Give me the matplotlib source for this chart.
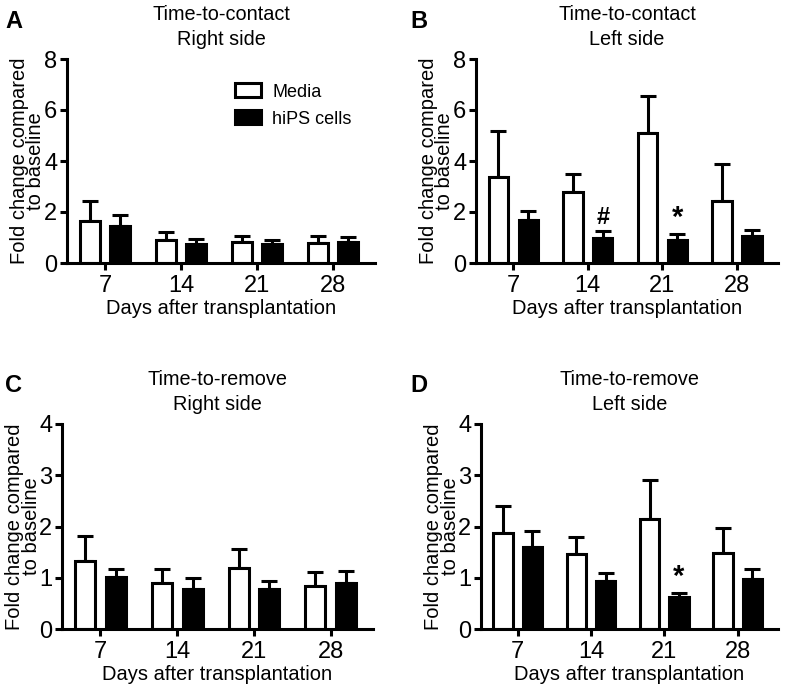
import matplotlib

matplotlib.use("Agg")
import matplotlib.pyplot as plt
import numpy as np
from matplotlib.patches import Patch

plt.rcParams["font.family"] = ["Liberation Sans", "DejaVu Sans"]

DAYS = ["7", "14", "21", "28"]
SERIES = ["Media", "hiPS cells"]

# mean and upper error bar end (mean + SEM)
A_MEDIA = [1.66, 0.92, 0.82, 0.78]
A_MEDIA_TOP = [2.42, 1.20, 1.07, 1.07]
A_HIPS = [1.46, 0.76, 0.73, 0.82]
A_HIPS_TOP = [1.88, 0.94, 0.89, 1.02]

B_MEDIA = [3.36, 2.77, 5.10, 2.42]
B_MEDIA_TOP = [5.16, 3.50, 6.54, 3.90]
B_HIPS = [1.70, 0.98, 0.89, 1.07]
B_HIPS_TOP = [2.03, 1.24, 1.14, 1.31]

C_MEDIA = [1.33, 0.89, 1.20, 0.83]
C_MEDIA_TOP = [1.82, 1.17, 1.56, 1.11]
C_HIPS = [1.01, 0.79, 0.79, 0.89]
C_HIPS_TOP = [1.17, 0.99, 0.94, 1.13]

D_MEDIA = [1.88, 1.46, 2.15, 1.48]
D_MEDIA_TOP = [2.40, 1.79, 2.90, 1.97]
D_HIPS = [1.60, 0.94, 0.63, 0.97]
D_HIPS_TOP = [1.92, 1.09, 0.70, 1.17]

W, H = 797, 689
LW = 2.2


def px_axes(fig, left, right, top, bottom):
    return fig.add_axes([left / W, (H - bottom) / H, (right - left) / W, (bottom - top) / H])


def draw_panel(ax, title, ymax, media, media_top, hips, hips_top, marks=None):
    x = np.arange(len(DAYS))
    off, width = 0.2, 0.26
    for vals, tops, dx, face in [(media, media_top, -off, "white"), (hips, hips_top, off, "black")]:
        vals = np.array(vals)
        err = np.array(tops) - vals
        ax.errorbar(x + dx, vals, yerr=[np.zeros_like(err), err], fmt="none",
                    ecolor="black", elinewidth=LW, capsize=6, capthick=LW, zorder=1)
        ax.bar(x + dx, vals, width, color=face, edgecolor="black", linewidth=LW, zorder=2)
    if marks:
        for i, sym in marks:
            size = 21 if sym == "*" else 17
            ax.text(x[i] + off, hips_top[i] + ymax * 0.01, sym, ha="center", va="bottom",
                    fontsize=size, fontweight="bold")
    ticks = np.arange(0, ymax + 0.1, ymax / 4)
    ax.set_xlim(-0.5, 3.55)
    ax.set_ylim(0, ymax)
    ax.set_yticks(ticks, [f"{v:g}" for v in ticks])
    ax.set_xticks(x, DAYS)
    for side in ["top", "right"]:
        ax.spines[side].set_visible(False)
    for side in ["left", "bottom"]:
        ax.spines[side].set_linewidth(LW)
    ax.tick_params(axis="both", width=LW, length=5, labelsize=17, pad=2)
    ax.tick_params(axis="x", pad=4)
    ax.set_xlabel("Days after transplantation", fontsize=14.5, labelpad=1)
    ax.set_ylabel("Fold change compared\nto baseline", fontsize=14.5, linespacing=0.82, labelpad=-1)
    ax.set_title(title, fontsize=14.3, linespacing=1.4, pad=10)


fig = plt.figure(figsize=(W / 100, H / 100), dpi=100)

ax_a = px_axes(fig, 67, 375, 59, 263)
draw_panel(ax_a, "Time-to-contact\nRight side", 8, A_MEDIA, A_MEDIA_TOP, A_HIPS, A_HIPS_TOP)
handles = [Patch(facecolor="white", edgecolor="black", linewidth=LW),
           Patch(facecolor="black", edgecolor="black", linewidth=LW)]
ax_a.legend(handles, SERIES, loc="upper left", bbox_to_anchor=(0.517, 0.925), frameon=False,
            fontsize=13, handlelength=1.45, handleheight=0.8, handletextpad=0.6, labelspacing=0.55,
            borderpad=0)

ax_b = px_axes(fig, 476, 778, 59, 263)
draw_panel(ax_b, "Time-to-contact\nLeft side", 8, B_MEDIA, B_MEDIA_TOP, B_HIPS, B_HIPS_TOP,
           marks=[(1, "#"), (2, "*")])

ax_c = px_axes(fig, 62, 373, 424, 629)
draw_panel(ax_c, "Time-to-remove\nRight side", 4, C_MEDIA, C_MEDIA_TOP, C_HIPS, C_HIPS_TOP)

ax_d = px_axes(fig, 481, 778, 424, 629)
draw_panel(ax_d, "Time-to-remove\nLeft side", 4, D_MEDIA, D_MEDIA_TOP, D_HIPS, D_HIPS_TOP,
           marks=[(2, "*")])

for letter, lx, ly in [("A", 5, 10), ("B", 410, 10), ("C", 5, 374), ("D", 410, 374)]:
    fig.text(lx / W, 1 - ly / H, letter, fontsize=17, fontweight="bold", ha="left", va="top")

fig.savefig("out.png", dpi=100)
plt.close(fig)
